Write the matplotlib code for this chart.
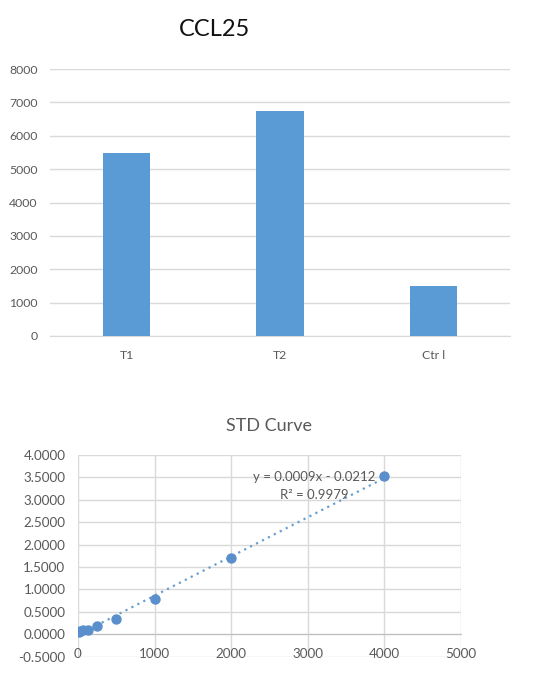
import matplotlib.pyplot as plt
import numpy as np

plt.rcParams['font.family'] = ['Lato', 'DejaVu Sans']

# CCL25 bar data
groups = ["T1", "T2", "Ctr l"]
ccl25 = [5490, 6750, 1505]

# standard curve data
std_conc = [15.625, 31.25, 62.5, 125, 250, 500, 1000, 2000, 4000]
std_od = [0.052, 0.075, 0.09, 0.104, 0.187, 0.34, 0.78, 1.71, 3.53]

blue = "#5b9bd5"
grid_c = "#d9d9d9"
tick_c = "#595959"

fig = plt.figure(figsize=(5.33, 6.84), dpi=100)

# top: bar chart
ax1 = fig.add_axes([50 / 533, 1 - 336 / 684, 460 / 533, 267 / 684])
ax1.bar(groups, ccl25, width=0.31, color=blue, zorder=3)
ax1.set_ylim(0, 8000)
ax1.set_xlim(-0.5, 2.5)
ax1.set_yticks(np.arange(0, 8001, 1000))
ax1.grid(axis="y", color=grid_c, linewidth=1, zorder=0)
for s in ["top", "right", "left"]:
    ax1.spines[s].set_visible(False)
ax1.spines["bottom"].set_color(grid_c)
ax1.tick_params(length=0, labelsize=8.8, labelcolor=tick_c)
ax1.tick_params(axis="y", pad=9)
ax1.tick_params(axis="x", pad=10)
fig.text(214 / 533, 1 - 30 / 684, "CCL25", fontsize=17, ha="center", va="center", color="#111111")

# bottom: standard curve
ax2 = fig.add_axes([78 / 533, 1 - 656.7 / 684, 383 / 533, 201.7 / 684])
ax2.scatter(std_conc, std_od, s=42, color="#5b8fcc", zorder=4)
slope, icpt = np.polyfit(std_conc, std_od, 1)
xs = np.array([0, max(std_conc)])
ax2.plot(xs, slope * xs + icpt, linestyle=(0, (1, 2)), color="#6a9fcc", linewidth=1.6, zorder=3)
ax2.set_xlim(0, 5000)
ax2.set_ylim(-0.5, 4.0)
ax2.set_xticks(np.arange(0, 5001, 1000))
ax2.set_yticks(np.arange(-0.5, 4.01, 0.5))
ax2.set_yticklabels([f"{v:.4f}" for v in np.arange(-0.5, 4.01, 0.5)])
ax2.grid(color=grid_c, linewidth=1, zorder=0)
for s in ["top", "right", "left"]:
    ax2.spines[s].set_visible(False)
ax2.spines["bottom"].set_position(("data", 0))
ax2.spines["bottom"].set_color("#bfbfbf")
ax2.tick_params(length=0, labelsize=9.7, labelcolor=tick_c)
ax2.tick_params(axis="y", pad=9)
ax2.tick_params(axis="x", pad=10)
ax2.set_title("STD Curve", fontsize=13, color=tick_c, pad=17)
ax2.text(3080, 3.51, "y = 0.0009x - 0.0212", fontsize=9.5, color=tick_c, ha="center", va="center")
ax2.text(3080, 3.11, "R² = 0.9979", fontsize=9.5, color=tick_c, ha="center", va="center")

fig.savefig("out.png", dpi=100)
